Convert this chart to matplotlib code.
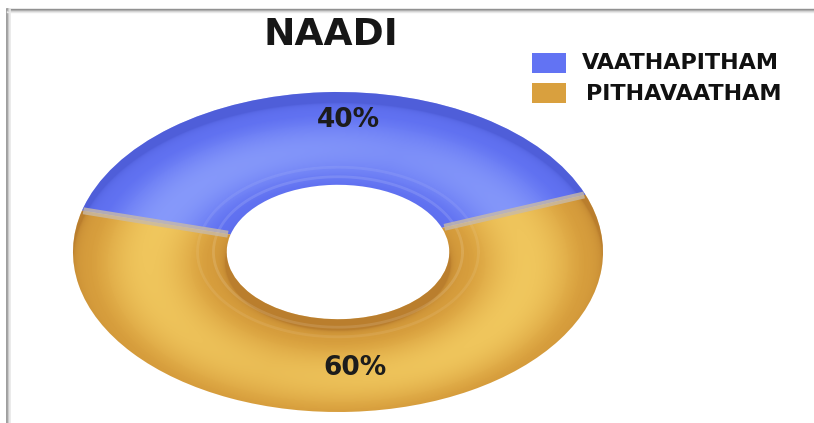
import numpy as np
import matplotlib
matplotlib.use("Agg")
import matplotlib.pyplot as plt
from matplotlib.patches import Rectangle
from matplotlib.lines import Line2D

# Naadi split
labels = ["VAATHAPITHAM", "PITHAVAATHAM"]
values = [40, 60]
colors = ["#6273f3", "#d9a03e"]
light_cols = [(0.62, 0.70, 1.0), (1.0, 0.88, 0.45)]
dark_cols = [(0.20, 0.25, 0.70), (0.55, 0.30, 0.08)]

W, H = 814, 423
fig = plt.figure(figsize=(W / 100, H / 100), dpi=100)
fig.patch.set_facecolor("white")

# frame lines along top and left edge
for off, col in [(0, "#8c8c8c"), (1, "#a8a8a8"), (2, "#cfcfcf"), (3, "#e8e8e8")]:
    fig.add_artist(Line2D([7 / W, 1], [1 - (9 + off) / H] * 2, color=col, lw=1))
    fig.add_artist(Line2D([(7 + off) / W] * 2, [0, 1 - 9 / H], color=col, lw=1.2))

# donut axes, squashed so the ring looks tilted
ax = fig.add_axes([73 / W, 11 / H, 530 / W, 320 / H])
inner = 0.42
start = 21
wedges, _ = ax.pie(values, colors=colors, startangle=start, counterclock=True,
                   radius=1, wedgeprops=dict(width=1 - inner, edgecolor="none"))
ax.set_aspect("auto")
ax.set_xlim(-1, 1)
ax.set_ylim(-1, 1)
ax.axis("off")

# tube shading
n = 700
xs = np.linspace(-1, 1, n)
X, Y = np.meshgrid(xs, xs)
R = np.hypot(X, Y)
TH = np.arctan2(Y, X)
mid = (1 + inner) / 2
half = (1 - inner) / 2
t = (R - mid) / half + 0.25 * np.sin(TH)
nz = np.sqrt(np.clip(1 - t ** 2, 0, 1))
side = 0.8 + 0.3 * np.abs(np.cos(TH + 0.35))
light_a = 0.55 * np.clip((nz - 0.6) / 0.4, 0, 1) ** 2 * side
dark_a = 0.4 * (1 - nz) ** 2.5

for w, lc, dc in zip(wedges, light_cols, dark_cols):
    lo = np.zeros((n, n, 4))
    lo[..., :3] = dc
    lo[..., 3] = dark_a
    hi = np.zeros((n, n, 4))
    hi[..., :3] = lc
    hi[..., 3] = light_a
    for layer in (lo, hi):
        im = ax.imshow(layer, extent=(-1, 1, -1, 1), origin="lower",
                       aspect="auto", interpolation="bilinear", zorder=2)
        im.set_clip_path(w)

# inner lip
a = np.linspace(0, 2 * np.pi, 400)
for rr, al in [(0.47, 0.12), (0.53, 0.08)]:
    ax.plot(rr * np.cos(a), rr * np.sin(a), color="white", lw=2, alpha=al, zorder=3)

# seams between the two segments
cum = start
for v in values:
    ang = np.deg2rad(cum)
    rs = np.array([inner + 0.01, 0.995])
    ax.plot(rs * np.cos(ang), rs * np.sin(ang), color="#c8baa8", lw=5,
            alpha=0.8, solid_capstyle="butt", zorder=4)
    cum += v * 360 / sum(values)

# value labels
label_pos = [(0.04, 0.825), (0.065, -0.725)]
for v, (lx, ly) in zip(values, label_pos):
    ax.text(lx, ly, f"{v}%", ha="center", va="center", fontsize=19,
            fontweight="bold", color="#1c1c1c", family="DejaVu Sans", zorder=5)

fig.text(331 / W, 1 - 35 / H, "NAADI", ha="center", va="center", fontsize=27,
         fontweight="bold", color="#161616", family="DejaVu Sans")

# legend
for i, (lab, col) in enumerate(zip(labels, colors)):
    y0 = 53 + i * 30.5
    fig.add_artist(Rectangle((532 / W, 1 - (y0 + 20) / H), 34 / W, 20 / H,
                             transform=fig.transFigure, facecolor=col, edgecolor="none"))
    fig.text((582 + 4 * i) / W, 1 - (y0 + 10) / H, lab, ha="left", va="center",
             fontsize=16, fontweight="bold", color="#111111", family="DejaVu Sans")

fig.savefig("out.png", dpi=100, facecolor="white")
